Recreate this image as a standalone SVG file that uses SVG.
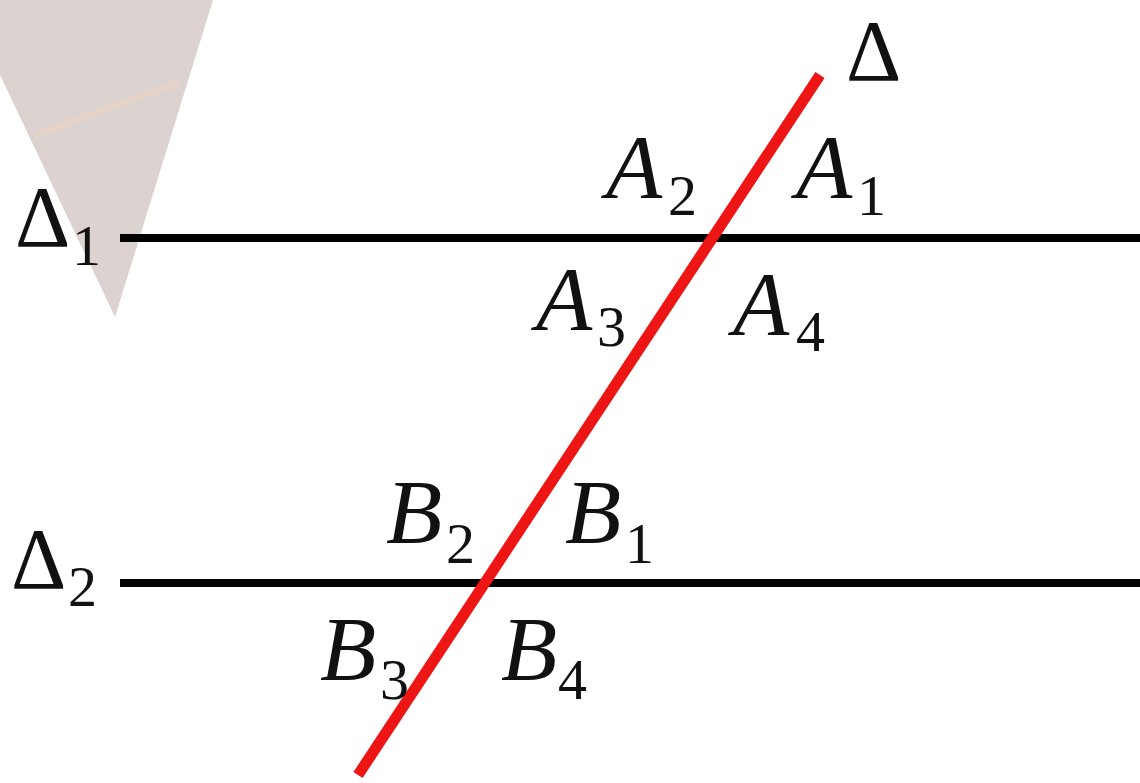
<svg xmlns="http://www.w3.org/2000/svg" width="1140" height="783" viewBox="0 0 1140 783">
<style>
.v{font-family:"Liberation Serif","DejaVu Serif",serif;font-style:italic;font-size:92px;fill:#111}
.s{font-family:"Liberation Serif","DejaVu Serif",serif;font-size:58px;fill:#111}
.d{font-family:"Liberation Serif","DejaVu Serif",serif;font-size:86px;fill:#111}
.ln{stroke:#000;stroke-width:8;fill:none}
.tr{stroke:#ee1515;stroke-width:11;fill:none}
</style>
<rect width="1140" height="783" fill="#fff"/>
<g id="watermark">
<polygon points="0,0 213,0 115,317 0,75" fill="#dcd3d0"/>
<line x1="35" y1="135" x2="180" y2="82" stroke="#e8d3c6" stroke-width="6" opacity="0.8"/>
</g>
<g id="connectors">
<line class="ln" x1="120" y1="238" x2="1140" y2="238"/>
<line class="ln" x1="120" y1="583" x2="1140" y2="583"/>
<line class="tr" x1="820" y1="75" x2="358" y2="775"/>
</g>
<g id="delta"><text class="d" x="846" y="80">Δ</text></g>
<g id="delta1"><text class="d" x="15" y="246">Δ</text><text class="s" x="72" y="265">1</text></g>
<g id="delta2"><text class="d" x="11" y="588">Δ</text><text class="s" x="68" y="606">2</text></g>
<g id="A1"><text class="v" x="796" y="198">A</text><text class="s" x="857" y="215">1</text></g>
<g id="A2"><text class="v" x="606" y="198">A</text><text class="s" x="668" y="215">2</text></g>
<g id="A3"><text class="v" x="536" y="330">A</text><text class="s" x="597" y="346">3</text></g>
<g id="A4"><text class="v" x="733" y="335">A</text><text class="s" x="796" y="351">4</text></g>
<g id="B1"><text class="v" x="565" y="543">B</text><text class="s" x="625" y="563">1</text></g>
<g id="B2"><text class="v" x="386" y="543">B</text><text class="s" x="446" y="563">2</text></g>
<g id="B3"><text class="v" x="320" y="680">B</text><text class="s" x="380" y="699">3</text></g>
<g id="B4"><text class="v" x="501" y="680">B</text><text class="s" x="558" y="699">4</text></g>
</svg>
